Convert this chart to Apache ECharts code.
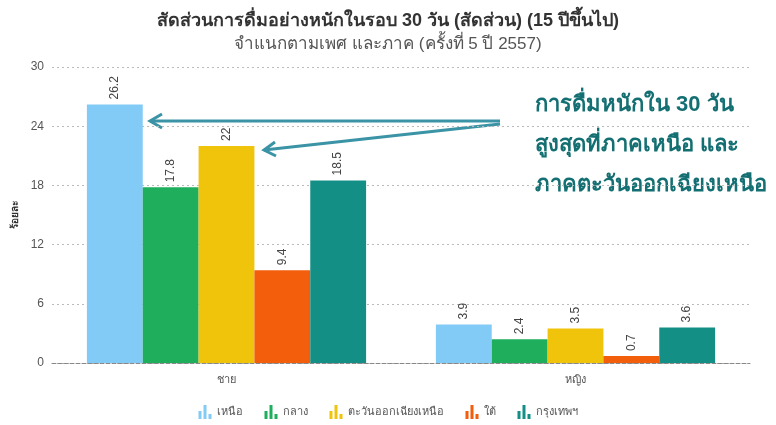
<!DOCTYPE html>
<html>
<head>
<meta charset="utf-8">
<script src="https://cdn.jsdelivr.net/npm/echarts@6/dist/echarts.min.js"></script>
<style>
html, body { margin: 0; padding: 0; background: #fff; }
#chart { width: 776px; height: 425px; }
</style>
</head>
<body>
<div id="chart"></div>
<script>
// ข้อมูล
var categories = ['ชาย', 'หญิง'];
var regionNames = ['เหนือ', 'กลาง', 'ตะวันออกเฉียงเหนือ', 'ใต้', 'กรุงเทพฯ'];
var north = [26.2, 3.9];
var central = [17.8, 2.4];
var northeast = [22, 3.5];
var south = [9.4, 0.7];
var bangkok = [18.5, 3.6];
var yTicks = [0, 6, 12, 18, 24, 30];

var colors = ['#82cbf7', '#1fae5b', '#f1c40c', '#f25e0c', '#148f86'];
var barIcon = 'path://M0,6L3,6L3,14L0,14Z M5,0L8,0L8,14L5,14Z M10,9L13,9L13,14L10,14Z';

var chartDom = document.getElementById('chart');
var myChart = echarts.init(chartDom);

function makeSeries(name, data, color) {
    return {
        name: name,
        type: 'bar',
        data: data,
        barGap: '0%',
        barCategoryGap: '20%',
        itemStyle: { color: color },
        label: {
            show: true,
            position: 'top',
            rotate: 90,
            align: 'left',
            verticalAlign: 'middle',
            distance: 5,
            color: '#444',
            fontSize: 12
        }
    };
}

var arrowColor = '#3b93a6';
var noteColor = '#146f72';

var option = {
    title: {
        text: 'สัดส่วนการดื่มอย่างหนักในรอบ 30 วัน (สัดส่วน) (15 ปีขึ้นไป)',
        subtext: 'จำแนกตามเพศ และภาค (ครั้งที่ 5 ปี 2557)',
        left: 'center',
        top: 7,
        itemGap: 6,
        textStyle: { fontSize: 18, fontWeight: 'bold', color: '#333' },
        subtextStyle: { fontSize: 17, color: '#555' }
    },
    legend: {
        bottom: 1,
        left: 'center',
        icon: barIcon,
        itemWidth: 13,
        itemHeight: 14,
        itemGap: 22,
        textStyle: { fontSize: 11, color: '#555' },
        data: regionNames
    },
    grid: { left: 52, right: 26, top: 67, bottom: 62 },
    xAxis: {
        type: 'category',
        data: categories,
        axisTick: { show: false },
        axisLine: { lineStyle: { color: '#888', type: 'dashed' } },
        axisLabel: { color: '#555', fontSize: 11, margin: 11 }
    },
    yAxis: {
        type: 'value',
        min: 0,
        max: 30,
        interval: 6,
        name: 'ร้อยละ',
        nameLocation: 'middle',
        nameRotate: 90,
        nameGap: 20,
        nameTextStyle: { fontSize: 10, fontWeight: 'bold', color: '#333' },
        axisLabel: { color: '#555', fontSize: 12,
            formatter: function (v) { return yTicks.indexOf(v) >= 0 ? v : ''; } },
        splitLine: { lineStyle: { color: '#bbb', type: [2, 3] } }
    },
    series: [
        makeSeries(regionNames[0], north, colors[0]),
        makeSeries(regionNames[1], central, colors[1]),
        makeSeries(regionNames[2], northeast, colors[2]),
        makeSeries(regionNames[3], south, colors[3]),
        makeSeries(regionNames[4], bangkok, colors[4])
    ],
    graphic: [
        {
            type: 'group',
            silent: true,
            children: [
                { type: 'line', shape: { x1: 500, y1: 121, x2: 150, y2: 121 },
                  style: { stroke: arrowColor, lineWidth: 3 } },
                { type: 'polyline', shape: { points: [[162, 114], [150, 121], [162, 128]] },
                  style: { stroke: arrowColor, lineWidth: 3, fill: null } },
                { type: 'line', shape: { x1: 500, y1: 124, x2: 264, y2: 150 },
                  style: { stroke: arrowColor, lineWidth: 3 } },
                { type: 'polyline', shape: { points: [[275, 142], [264, 150], [276, 156]] },
                  style: { stroke: arrowColor, lineWidth: 3, fill: null } },
                { type: 'text', left: 535, top: 94,
                  style: { text: 'การดื่มหนักใน 30 วัน', fill: noteColor, fontSize: 22, fontWeight: 'bold' } },
                { type: 'text', left: 535, top: 134,
                  style: { text: 'สูงสุดที่ภาคเหนือ และ', fill: noteColor, fontSize: 22, fontWeight: 'bold' } },
                { type: 'text', left: 535, top: 174,
                  style: { text: 'ภาคตะวันออกเฉียงเหนือ', fill: noteColor, fontSize: 22, fontWeight: 'bold' } }
            ]
        }
    ]
};
myChart.setOption(option);
</script>
</body>
</html>
